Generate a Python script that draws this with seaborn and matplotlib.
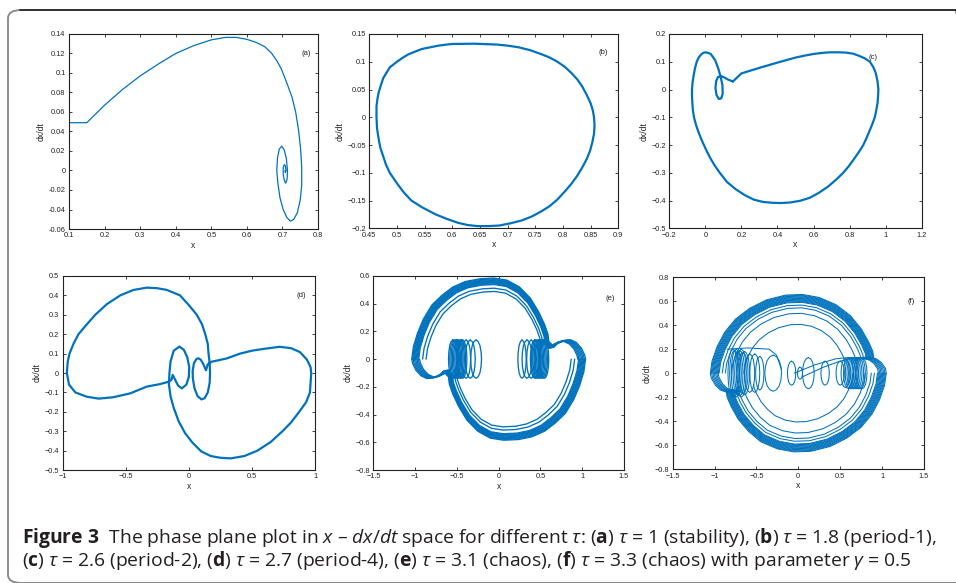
import numpy as np
import pandas as pd
import matplotlib
matplotlib.use('Agg')
import matplotlib.pyplot as plt
import seaborn as sns
from matplotlib.patches import FancyBboxPatch
from matplotlib.lines import Line2D

BLUE = '#0072BD'

# ---------------- data ----------------
# (a) tau = 1
a_x = [0.1, 0.15, 0.175, 0.2, 0.25, 0.3, 0.35, 0.4, 0.45, 0.5, 0.54, 0.57, 0.6, 0.625, 0.65, 0.67, 0.685,
       0.697, 0.712, 0.727, 0.737, 0.745, 0.751, 0.754, 0.754, 0.75, 0.742, 0.732, 0.722, 0.712, 0.702,
       0.693, 0.687, 0.684, 0.686, 0.691, 0.698, 0.705, 0.711, 0.714, 0.713, 0.709, 0.705, 0.702, 0.702,
       0.705, 0.708, 0.71, 0.708, 0.707]
a_y = [0.049, 0.049, 0.058, 0.067, 0.083, 0.097, 0.109, 0.12, 0.128, 0.134, 0.1365, 0.1365, 0.1345, 0.1315,
       0.127, 0.12, 0.112, 0.104, 0.09, 0.075, 0.06, 0.042, 0.022, 0.004, -0.015, -0.03, -0.043, -0.05,
       -0.052, -0.048, -0.04, -0.028, -0.013, 0.0, 0.013, 0.022, 0.025, 0.021, 0.012, 0.0, -0.009, -0.013,
       -0.01, -0.004, 0.003, 0.006, 0.005, 0.0, -0.002, 0.0]

# (b) tau = 1.8
b_x = [0.6, 0.64, 0.68, 0.7, 0.72, 0.74, 0.76, 0.775, 0.79, 0.803, 0.815, 0.826, 0.835, 0.843, 0.85,
       0.854, 0.856, 0.857, 0.856, 0.853, 0.849, 0.843, 0.835, 0.826, 0.815, 0.803, 0.79, 0.776, 0.76,
       0.743, 0.725, 0.705, 0.685, 0.665, 0.645, 0.627, 0.61, 0.59, 0.57, 0.545, 0.526, 0.512, 0.5,
       0.487, 0.48, 0.475, 0.47, 0.467, 0.464, 0.463, 0.463, 0.465, 0.467, 0.471, 0.475, 0.481, 0.487,
       0.5, 0.51, 0.52, 0.532, 0.545, 0.56, 0.575, 0.59, 0.6]
b_y = [0.132, 0.1325, 0.131, 0.129, 0.126, 0.121, 0.114, 0.108, 0.1, 0.091, 0.08, 0.068, 0.055, 0.04,
       0.025, 0.012, 0.0, -0.015, -0.03, -0.045, -0.06, -0.075, -0.09, -0.105, -0.12, -0.134, -0.148,
       -0.16, -0.17, -0.179, -0.186, -0.191, -0.195, -0.196, -0.196, -0.194, -0.19, -0.183, -0.175,
       -0.162, -0.15, -0.135, -0.119, -0.1, -0.085, -0.07, -0.055, -0.04, -0.02, 0.0, 0.02, 0.035, 0.045,
       0.058, 0.07, 0.08, 0.09, 0.1, 0.107, 0.113, 0.118, 0.123, 0.126, 0.129, 0.131, 0.132]

# (c) tau = 2.6
c_x = [0.153, 0.2, 0.3, 0.4, 0.5, 0.55, 0.6, 0.65, 0.69, 0.74, 0.78, 0.82, 0.85, 0.885, 0.913, 0.932,
       0.945, 0.955, 0.96, 0.958, 0.955, 0.948, 0.94, 0.926, 0.91, 0.894, 0.876, 0.852, 0.825, 0.797,
       0.765, 0.725, 0.68, 0.63, 0.58, 0.525, 0.47, 0.42, 0.37, 0.32, 0.27, 0.22, 0.17, 0.12, 0.08, 0.05,
       0.03, 0.01, -0.008, -0.025, -0.04, -0.053, -0.063, -0.069, -0.072, -0.074, -0.074, -0.071, -0.065,
       -0.058, -0.048, -0.037, -0.025, -0.012, 0.0, 0.015, 0.03, 0.055, 0.072, 0.085, 0.095, 0.096, 0.088,
       0.075, 0.062, 0.056, 0.06, 0.07, 0.085, 0.1, 0.125, 0.153]
c_y = [0.029, 0.058, 0.078, 0.097, 0.115, 0.122, 0.128, 0.132, 0.134, 0.134, 0.133, 0.129, 0.122, 0.112,
       0.1, 0.08, 0.06, 0.03, 0.0, -0.025, -0.05, -0.075, -0.1, -0.125, -0.15, -0.175, -0.2, -0.225,
       -0.25, -0.275, -0.3, -0.325, -0.35, -0.372, -0.39, -0.401, -0.407, -0.409, -0.408, -0.405, -0.397,
       -0.381, -0.36, -0.333, -0.3, -0.272, -0.25, -0.225, -0.2, -0.175, -0.15, -0.125, -0.1, -0.075,
       -0.05, -0.025, 0.0, 0.025, 0.05, 0.075, 0.1, 0.115, 0.125, 0.132, 0.134, 0.132, 0.128, 0.105,
       0.075, 0.045, 0.015, -0.015, -0.032, -0.034, -0.02, 0.005, 0.03, 0.045, 0.048, 0.045, 0.036, 0.029]

# (d) tau = 2.7
d_x = [0.136, 0.15, 0.18, 0.3, 0.406, 0.5, 0.6, 0.72, 0.81, 0.88, 0.935, 0.965, 0.97, 0.96, 0.93, 0.875,
       0.81, 0.742, 0.65, 0.544, 0.44, 0.333, 0.25, 0.174, 0.1, 0.03, -0.03, -0.08, -0.12, -0.145, -0.158,
       -0.154, -0.145, -0.12, -0.075, -0.04, -0.012, 0.003, 0.0, -0.02, -0.056, -0.085, -0.105, -0.12,
       -0.128, -0.138, -0.161, -0.227, -0.333, -0.465, -0.6, -0.716, -0.81, -0.9, -0.95, -0.967, -0.96,
       -0.946, -0.915, -0.875, -0.81, -0.742, -0.65, -0.544, -0.44, -0.333, -0.25, -0.174, -0.07, 0.0,
       0.063, 0.105, 0.13, 0.15, 0.156, 0.165, 0.168, 0.165, 0.15, 0.125, 0.1, 0.07, 0.045, 0.032, 0.03,
       0.04, 0.06, 0.075, 0.095, 0.115, 0.128, 0.136]
d_y = [0.015, 0.045, 0.058, 0.075, 0.1, 0.115, 0.125, 0.135, 0.128, 0.108, 0.07, 0.03, 0.0, -0.1, -0.15,
       -0.2, -0.255, -0.3, -0.355, -0.4, -0.428, -0.44, -0.437, -0.428, -0.405, -0.36, -0.31, -0.25, -0.18,
       -0.12, -0.06, 0.0, 0.06, 0.115, 0.136, 0.12, 0.08, 0.03, -0.02, -0.06, -0.079, -0.065, -0.04, -0.02,
       -0.01, -0.035, -0.045, -0.057, -0.07, -0.105, -0.125, -0.132, -0.122, -0.1, -0.06, 0.0, 0.06, 0.1,
       0.15, 0.2, 0.25, 0.3, 0.355, 0.4, 0.428, 0.44, 0.437, 0.428, 0.4, 0.35, 0.3, 0.25, 0.2, 0.15, 0.1,
       0.05, 0.0, -0.05, -0.1, -0.13, -0.136, -0.12, -0.08, -0.03, 0.01, 0.05, 0.072, 0.076, 0.068, 0.045,
       0.025, 0.015]

# coil shape (one turn, unit size)
loop_u = [0, 0.38, 0.71, 0.92, 1, 0.92, 0.71, 0.38, 0, -0.38, -0.71, -0.92, -1, -0.92, -0.71, -0.38, 0]
loop_v = [1, 0.92, 0.71, 0.38, 0, -0.38, -0.71, -0.92, -1, -0.92, -0.71, -0.38, 0, 0.38, 0.71, 0.92, 1]

# (e) tau = 3.1
e_top_x = [-1.04, -1.02, -0.97, -0.9, -0.8, -0.68, -0.55, -0.4, -0.22, -0.06, 0.1, 0.25, 0.38, 0.48, 0.55, 0.59, 0.6]
e_top_y = [0.0, 0.09, 0.19, 0.29, 0.39, 0.46, 0.52, 0.56, 0.58, 0.585, 0.57, 0.52, 0.44, 0.34, 0.25, 0.18, 0.13]
e_bot_x = [1.04, 1.02, 0.97, 0.9, 0.8, 0.68, 0.55, 0.4, 0.24, 0.06, -0.1, -0.25, -0.38, -0.48, -0.55, -0.59, -0.6]
e_bot_y = [0.0, -0.09, -0.19, -0.29, -0.39, -0.46, -0.52, -0.56, -0.58, -0.585, -0.57, -0.52, -0.44, -0.34, -0.25, -0.18, -0.13]
e_llobe_x = [-0.58, -0.63, -0.66, -0.7, -0.78, -0.86, -0.93, -0.99, -1.03, -1.04]
e_llobe_y = [-0.14, -0.11, -0.085, -0.11, -0.135, -0.14, -0.12, -0.08, -0.03, 0.0]
e_rlobe_x = [0.58, 0.63, 0.66, 0.7, 0.78, 0.86, 0.93, 0.99, 1.03, 1.04]
e_rlobe_y = [0.14, 0.11, 0.085, 0.11, 0.135, 0.14, 0.12, 0.08, 0.03, 0.0]
e_band = [1.0, 0.99, 0.98, 0.97, 0.96, 0.95, 0.94, 0.93, 0.92, 0.875, 0.835]
e_lobe_band = [1.0, 0.985, 0.97, 0.955, 0.94, 0.925, 0.91]
e_coil_cx = [-0.55, -0.535, -0.52, -0.505, -0.49, -0.475, -0.46, -0.445, -0.43, -0.39, -0.34, -0.27,
             0.55, 0.535, 0.52, 0.505, 0.49, 0.475, 0.46, 0.445, 0.43, 0.39, 0.34, 0.28]
e_coil_hw = [0.05] * 9 + [0.055, 0.06, 0.065] + [0.05] * 9 + [0.055, 0.06, 0.05]
e_coil_hh = [0.138] * 24

# (f) tau = 3.3
f_top_x = [-1.05, -1.03, -0.97, -0.88, -0.75, -0.58, -0.38, -0.15, 0.05, 0.25, 0.45, 0.62, 0.75, 0.84, 0.89, 0.9]
f_top_y = [0.0, 0.1, 0.22, 0.34, 0.45, 0.54, 0.61, 0.65, 0.655, 0.63, 0.57, 0.48, 0.37, 0.26, 0.18, 0.13]
f_bot_x = [1.05, 1.03, 0.97, 0.88, 0.75, 0.58, 0.38, 0.15, -0.05, -0.25, -0.45, -0.6, -0.72, -0.8, -0.85, -0.86]
f_bot_y = [0.0, -0.1, -0.22, -0.34, -0.45, -0.54, -0.61, -0.65, -0.655, -0.63, -0.57, -0.48, -0.38, -0.28, -0.2, -0.15]
f_llobe_x = [-0.75, -0.85, -0.93, -0.99, -1.04, -1.05]
f_llobe_y = [-0.16, -0.16, -0.14, -0.1, -0.04, 0.0]
f_rlobe_x = [0.75, 0.85, 0.93, 0.99, 1.04, 1.05]
f_rlobe_y = [0.13, 0.135, 0.12, 0.09, 0.04, 0.0]
f_band = [1.0, 0.99, 0.98, 0.97, 0.96, 0.95, 0.94, 0.93, 0.92, 0.91, 0.9, 0.865, 0.83, 0.76, 0.62]
f_lobe_band = [1.0, 0.985, 0.97, 0.955, 0.94, 0.925, 0.91]
f_coil_cx = [-0.78, -0.76, -0.74, -0.72, -0.7, -0.68, -0.66, -0.64, -0.58, -0.52, -0.46, -0.3, -0.08, 0.02,
             0.12, 0.32, 0.5, 0.56, 0.6, 0.62, 0.64, 0.66, 0.68, 0.7, 0.72, 0.74, 0.76]
f_coil_hw = [0.06] * 8 + [0.06, 0.06, 0.05, 0.1, 0.05, 0.03, 0.07, 0.05, 0.05, 0.05] + [0.06] * 9
f_coil_hh = [0.2, 0.19, 0.2, 0.18, 0.19, 0.2, 0.17, 0.18, 0.16, 0.16, 0.14, 0.15, 0.1, 0.05,
             0.13, 0.1, 0.1, 0.12] + [0.13] * 9
f_link_x = [[-0.85, -0.6, -0.35, -0.26, -0.2], [-0.05, 0.2, 0.45, 0.6], [0.05, 0.3, 0.5, 0.62]]
f_link_y = [[0.2, 0.21, 0.2, 0.15, 0.03], [0.0, 0.07, 0.12, 0.13], [-0.03, 0.05, 0.1, 0.12]]


def tidy(curves):
    rows = []
    for k, (xs, ys) in enumerate(curves):
        rows.append(pd.DataFrame({'x': xs, 'v': ys, 'seg': k}))
    return pd.concat(rows, ignore_index=True)


def band(xs, ys, factors):
    return [([s * q for q in xs], [s * q for q in ys]) for s in factors]


def coils(cx, hw, hh):
    return [([c + w * u for u in loop_u], [h * v for v in loop_v]) for c, w, h in zip(cx, hw, hh)]


e_curves = (band(e_top_x, e_top_y, e_band) + band(e_bot_x, e_bot_y, e_band)
            + band(e_llobe_x, e_llobe_y, e_lobe_band) + band(e_rlobe_x, e_rlobe_y, e_lobe_band)
            + coils(e_coil_cx, e_coil_hw, e_coil_hh))
f_curves = (band(f_top_x, f_top_y, f_band) + band(f_bot_x, f_bot_y, f_band)
            + band(f_llobe_x, f_llobe_y, f_lobe_band) + band(f_rlobe_x, f_rlobe_y, f_lobe_band)
            + coils(f_coil_cx, f_coil_hw, f_coil_hh) + list(zip(f_link_x, f_link_y)))

panels = [
    # curves, lw, xlim, ylim, xticks, yticks, tag, tag position, unicode minus
    ([(a_x, a_y)], 0.9, (0.1, 0.8), (-0.06, 0.14), np.arange(0.1, 0.81, 0.1), np.arange(-0.06, 0.141, 0.02),
     '(a)', (0.768, 0.12), False),
    ([(b_x, b_y)], 1.6, (0.45, 0.9), (-0.2, 0.15), np.arange(0.45, 0.91, 0.05), np.arange(-0.2, 0.151, 0.05),
     '(b)', (0.873, 0.117), True),
    ([(c_x, c_y)], 1.6, (-0.2, 1.2), (-0.5, 0.2), np.arange(-0.2, 1.21, 0.2), np.arange(-0.5, 0.21, 0.1),
     '(c)', (0.93, 0.114), True),
    ([(d_x, d_y)], 1.6, (-1, 1), (-0.5, 0.5), np.arange(-1, 1.01, 0.5), np.arange(-0.5, 0.51, 0.1),
     '(d)', (0.89, 0.4), True),
    (e_curves, 0.95, (-1.5, 1.5), (-0.8, 0.6), np.arange(-1.5, 1.51, 0.5), np.arange(-0.8, 0.61, 0.2),
     '(e)', (1.34, 0.44), True),
    (f_curves, 0.75, (-1.5, 1.5), (-0.8, 0.8), np.arange(-1.5, 1.51, 0.5), np.arange(-0.8, 0.81, 0.2),
     '(f)', (1.345, 0.6), True),
]

boxes = [
    [0.0722, 0.6072, 0.2605, 0.3345],
    [0.3863, 0.6084, 0.2605, 0.3333],
    [0.7001, 0.6084, 0.2640, 0.3333],
    [0.0656, 0.1938, 0.2639, 0.3328],
    [0.3905, 0.1938, 0.2622, 0.3328],
    [0.7036, 0.1950, 0.2629, 0.3298],
]

sns.set_style('ticks', {'xtick.direction': 'in', 'ytick.direction': 'in'})
plt.rcParams['font.family'] = ['Liberation Sans', 'DejaVu Sans']
plt.rcParams['mathtext.fontset'] = 'custom'
plt.rcParams['mathtext.rm'] = 'Open Sans'
plt.rcParams['mathtext.it'] = 'Open Sans:italic'
plt.rcParams['mathtext.bf'] = 'Open Sans:bold'


def fmt(v, uminus):
    s = '%g' % round(v, 4)
    if s == '-0':
        s = '0'
    return s.replace('-', '\u2212') if uminus else s


fig = plt.figure(figsize=(9.56, 5.83), dpi=100)

frame = FancyBboxPatch((8 / 956, 1 - 583 / 583), 960 / 956, 573 / 583,
                       boxstyle='round,pad=0,rounding_size=0.014', transform=fig.transFigure,
                       facecolor='none', edgecolor='#8c8c8c', lw=1.4, clip_on=False)
fig.add_artist(frame)
fig.add_artist(Line2D([20 / 956, 1.0], [1 - 10 / 583] * 2, transform=fig.transFigure, color='#222222', lw=1.2))

for box, (curves, lw, xl, yl, xt, yt, tag, tpos, um) in zip(boxes, panels):
    ax = fig.add_axes(box)
    df = tidy(curves)
    sns.lineplot(data=df, x='x', y='v', units='seg', estimator=None, sort=False,
                 color=BLUE, linewidth=lw, legend=False, ax=ax)
    for ln in ax.get_lines():
        ln.set_solid_joinstyle('round')
    ax.set_xlim(*xl)
    ax.set_ylim(*yl)
    ax.set_xticks(xt)
    ax.set_yticks(yt)
    ax.set_xticklabels([fmt(v, um) for v in xt])
    ax.set_yticklabels([fmt(v, um) for v in yt])
    ax.tick_params(direction='in', top=True, right=True, length=2.5, width=0.6,
                   labelsize=5.3, pad=2.5, colors='#222222')
    for sp in ax.spines.values():
        sp.set_visible(True)
        sp.set_linewidth(0.8)
        sp.set_color('#222222')
    ax.set_xlabel('x', fontsize=6.2, labelpad=1)
    ax.set_ylabel('dx/dt', fontsize=6.2, labelpad=2)
    ax.text(tpos[0], tpos[1], tag, fontsize=5.5, ha='center', va='center', color='#222222')

line1 = (r'$\mathbf{Figure\ 3}$  The phase plane plot in $x$ – $dx/dt$ space for different $\tau$: '
         r'($\mathbf{a}$) $\tau$ = 1 (stability), ($\mathbf{b}$) $\tau$ = 1.8 (period-1),')
line2 = (r'($\mathbf{c}$) $\tau$ = 2.6 (period-2), ($\mathbf{d}$) $\tau$ = 2.7 (period-4), '
         r'($\mathbf{e}$) $\tau$ = 3.1 (chaos), ($\mathbf{f}$) $\tau$ = 3.3 (chaos) with parameter $\gamma$ = 0.5')
for txt, yy in [(line1, 538), (line2, 561)]:
    fig.text(22 / 956, 1 - yy / 583, txt, fontsize=13.9, family='Open Sans', color='#231f20',
             ha='left', va='center')

fig.savefig('out.png', dpi=100)
